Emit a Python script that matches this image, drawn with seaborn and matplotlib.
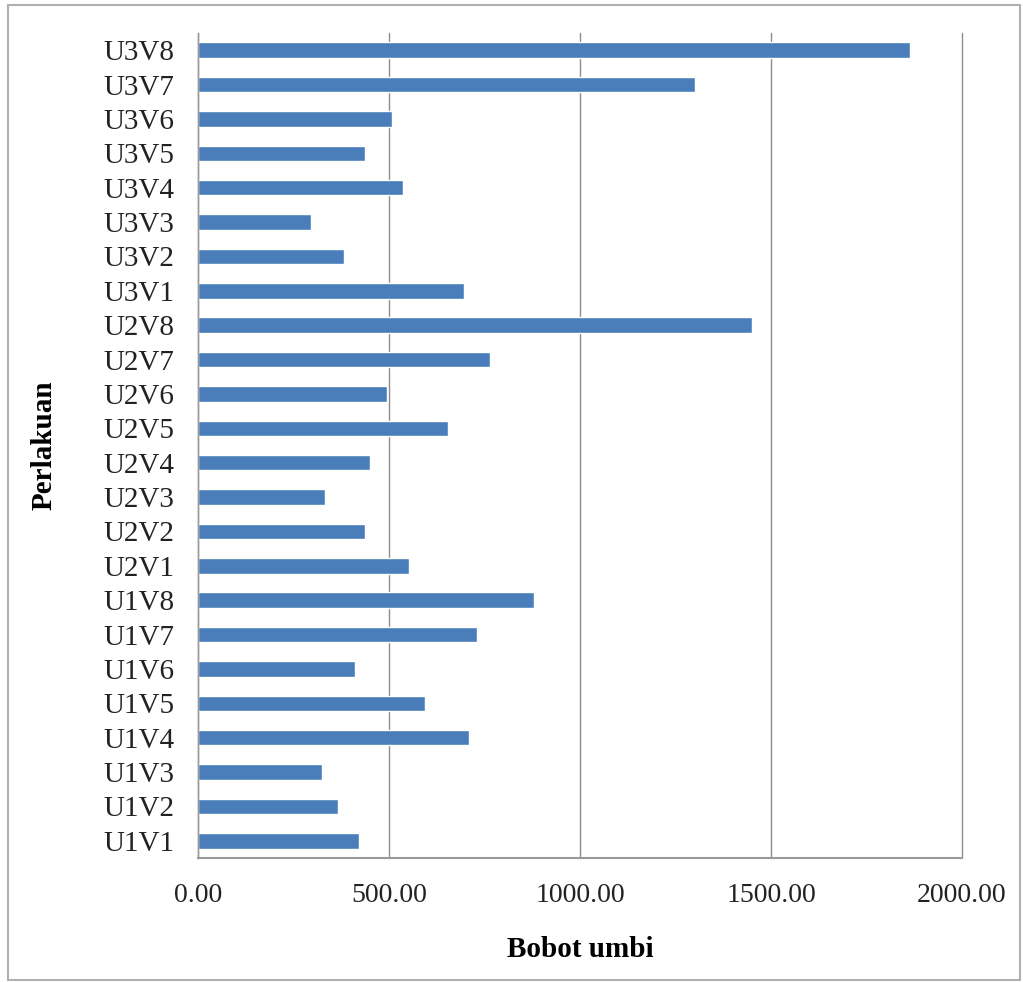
import matplotlib
matplotlib.use("Agg")
import matplotlib.pyplot as plt
import seaborn as sns
import pandas as pd
from matplotlib.patches import Rectangle

categories = ["U3V8", "U3V7", "U3V6", "U3V5", "U3V4", "U3V3", "U3V2", "U3V1",
              "U2V8", "U2V7", "U2V6", "U2V5", "U2V4", "U2V3", "U2V2", "U2V1",
              "U1V8", "U1V7", "U1V6", "U1V5", "U1V4", "U1V3", "U1V2", "U1V1"]
values = [1864, 1301, 508, 437, 537, 296, 382, 696,
          1450, 764, 495, 654, 450, 332, 437, 552,
          880, 730, 411, 594, 709, 325, 366, 421]
xticks = [0, 500, 1000, 1500, 2000]
xticklabels = ["0.00", "500.00", "1000.00", "1500.00", "2000.00"]

df = pd.DataFrame({"Perlakuan": categories, "Bobot umbi": values})

sns.set_theme(style="white")
plt.rcParams["font.family"] = ["Liberation Serif", "DejaVu Serif"]

fig = plt.figure(figsize=(10.23, 9.82), dpi=100)
ax = fig.add_axes([198/1023, 1-858/982, (962-198)/1023, (858-33)/982])

sns.barplot(data=df, y="Perlakuan", x="Bobot umbi", order=categories,
            orient="h", color="#4a7ebb", width=0.45, ax=ax, saturation=1)

ax.set_xlim(0, 2000)
ax.set_ylim(len(categories)-0.5, -0.5)
ax.set_xticks(xticks)
ax.set_xticklabels(xticklabels, fontsize=20, color="#222222")
ax.tick_params(axis="y", labelsize=21, length=0, pad=17, labelcolor="#222222")
ax.tick_params(axis="x", length=10, width=1, color="#999999", pad=8, direction="out")
ax.xaxis.grid(True, color="#8c8c8c", linewidth=1)
for gl in ax.get_xgridlines():
    gl.set_clip_on(False)
ax.set_axisbelow(True)
for s in ["top", "right"]:
    ax.spines[s].set_visible(False)
ax.spines["left"].set_color("#999999")
ax.spines["bottom"].set_color("#999999")
ax.spines["left"].set_linewidth(1)
ax.spines["bottom"].set_linewidth(1.5)

ax.set_xlabel("Bobot umbi", fontsize=21, fontweight="bold", labelpad=20, color="black")
ax.set_ylabel("Perlakuan", fontsize=21, fontweight="bold", color="black")
ax.yaxis.set_label_coords(-140/764, 0.5)

fig.patches.append(Rectangle((8/1023, 2/982), 1012/1023, 975/982, transform=fig.transFigure,
                             fill=False, edgecolor="#b0b0b0", linewidth=1.5))

fig.savefig("out.png", dpi=100)
